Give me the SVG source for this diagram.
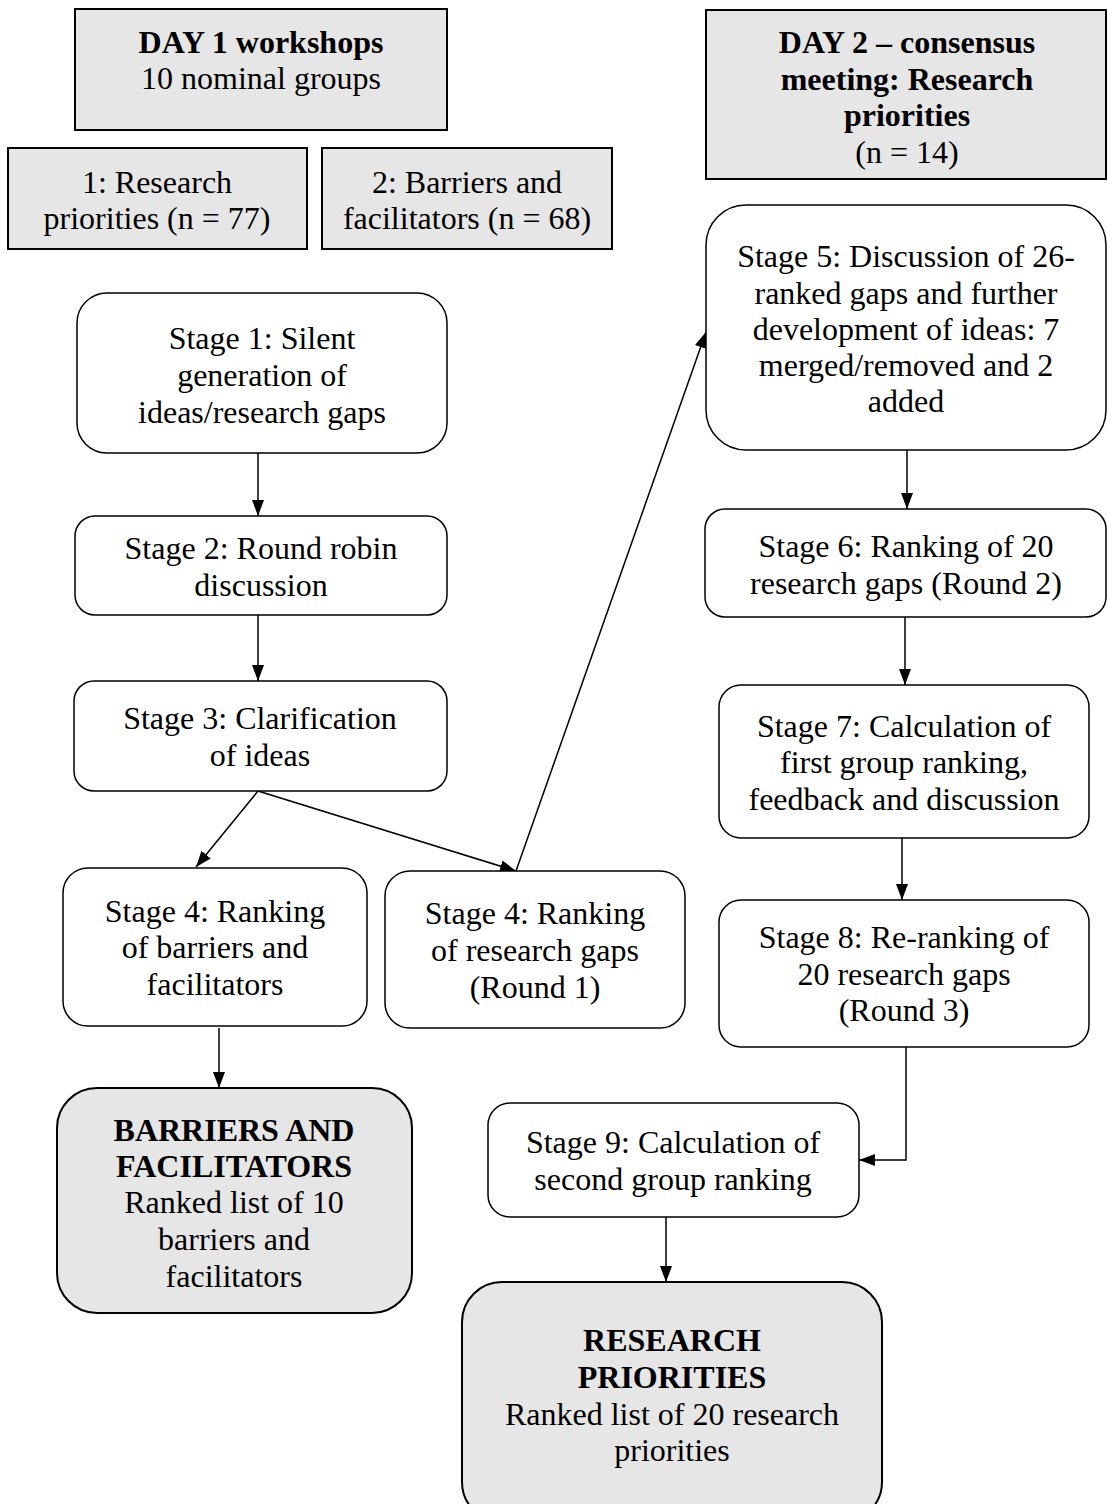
<svg xmlns="http://www.w3.org/2000/svg" width="1107" height="1504" viewBox="0 0 1107 1504">
<style>
text{font-size:32px;fill:#000;text-anchor:middle}
.b{font-weight:bold}
.g{fill:#e6e6e6;stroke:#000;stroke-width:2}
.w{fill:#fff;stroke:#000;stroke-width:1.5}
.c{stroke:#000;stroke-width:1.5;fill:none}
</style>
<defs>
<marker id="ah" viewBox="0 0 16 12" refX="16" refY="6" markerWidth="16" markerHeight="12" markerUnits="userSpaceOnUse" orient="auto">
<path d="M0,0 L16,6 L0,12 Z" fill="#000"/>
</marker>
</defs>
<rect width="1107" height="1504" fill="#fff"/>
<g id="connectors">
<line class="c" x1="258" y1="453" x2="258" y2="516" marker-end="url(#ah)"/>
<line class="c" x1="258" y1="615" x2="258" y2="681" marker-end="url(#ah)"/>
<line class="c" x1="258" y1="791" x2="196" y2="867" marker-end="url(#ah)"/>
<line class="c" x1="258" y1="791" x2="516" y2="871" marker-end="url(#ah)"/>
<line class="c" x1="516" y1="871" x2="706" y2="332" marker-end="url(#ah)"/>
<line class="c" x1="907" y1="450" x2="907" y2="509" marker-end="url(#ah)"/>
<line class="c" x1="905" y1="617" x2="905" y2="685" marker-end="url(#ah)"/>
<line class="c" x1="902" y1="838" x2="902" y2="900" marker-end="url(#ah)"/>
<polyline class="c" points="906,1047 906,1160 859,1160" marker-end="url(#ah)"/>
<line class="c" x1="666" y1="1217" x2="666" y2="1282" marker-end="url(#ah)"/>
<line class="c" x1="219" y1="1028" x2="219" y2="1088" marker-end="url(#ah)"/>
</g>
<g font-family="'Liberation Serif', 'DejaVu Serif', serif">
<g id="day1">
<rect class="g" x="75" y="9" width="372" height="121"/>
<text class="b" x="261" y="53">DAY 1 workshops</text>
<text x="261" y="89">10 nominal groups</text>
</g>
<g id="group1">
<rect class="g" x="8" y="148" width="299" height="101"/>
<text x="157" y="193">1: Research</text>
<text x="157" y="229">priorities (n = 77)</text>
</g>
<g id="group2">
<rect class="g" x="322" y="148" width="290" height="101"/>
<text x="467" y="193">2: Barriers and</text>
<text x="467" y="229">facilitators (n = 68)</text>
</g>
<g id="day2">
<rect class="g" x="706" y="10" width="400" height="169"/>
<text class="b" x="907" y="53">DAY 2 – consensus</text>
<text class="b" x="907" y="90">meeting: Research</text>
<text class="b" x="907" y="126">priorities</text>
<text x="907" y="163">(n = 14)</text>
</g>
<g id="stage1">
<rect class="w" x="77" y="293" width="370" height="160" rx="30"/>
<text x="262" y="349">Stage 1: Silent</text>
<text x="262" y="386">generation of</text>
<text x="262" y="423">ideas/research gaps</text>
</g>
<g id="stage2">
<rect class="w" x="75" y="516" width="372" height="99" rx="20"/>
<text x="261" y="559">Stage 2: Round robin</text>
<text x="261" y="596">discussion</text>
</g>
<g id="stage3">
<rect class="w" x="74" y="681" width="373" height="110" rx="20"/>
<text x="260" y="729">Stage 3: Clarification</text>
<text x="260" y="766">of ideas</text>
</g>
<g id="stage4a">
<rect class="w" x="63" y="868" width="304" height="158" rx="25"/>
<text x="215" y="922">Stage 4: Ranking</text>
<text x="215" y="958">of barriers and</text>
<text x="215" y="995">facilitators</text>
</g>
<g id="stage4b">
<rect class="w" x="385" y="871" width="300" height="157" rx="25"/>
<text x="535" y="924">Stage 4: Ranking</text>
<text x="535" y="961">of research gaps</text>
<text x="535" y="998">(Round 1)</text>
</g>
<g id="barriers">
<rect class="g" x="57" y="1088" width="355" height="225" rx="40" stroke-width="1.5"/>
<text class="b" x="234" y="1141">BARRIERS AND</text>
<text class="b" x="234" y="1177">FACILITATORS</text>
<text x="234" y="1213">Ranked list of 10</text>
<text x="234" y="1250">barriers and</text>
<text x="234" y="1287">facilitators</text>
</g>
<g id="stage5">
<rect class="w" x="706" y="205" width="400" height="245" rx="40"/>
<text x="906" y="267">Stage 5: Discussion of 26-</text>
<text x="906" y="304">ranked gaps and further</text>
<text x="906" y="340">development of ideas: 7</text>
<text x="906" y="376">merged/removed and 2</text>
<text x="906" y="412">added</text>
</g>
<g id="stage6">
<rect class="w" x="705" y="509" width="401" height="108" rx="20"/>
<text x="906" y="557">Stage 6: Ranking of 20</text>
<text x="906" y="594">research gaps (Round 2)</text>
</g>
<g id="stage7">
<rect class="w" x="719" y="685" width="370" height="153" rx="22"/>
<text x="904" y="737">Stage 7: Calculation of</text>
<text x="904" y="773">first group ranking,</text>
<text x="904" y="810">feedback and discussion</text>
</g>
<g id="stage8">
<rect class="w" x="719" y="900" width="370" height="147" rx="22"/>
<text x="904" y="948">Stage 8: Re-ranking of</text>
<text x="904" y="985">20 research gaps</text>
<text x="904" y="1021">(Round 3)</text>
</g>
<g id="stage9">
<rect class="w" x="488" y="1103" width="371" height="114" rx="22"/>
<text x="673" y="1153">Stage 9: Calculation of</text>
<text x="673" y="1190">second group ranking</text>
</g>
<g id="research">
<rect class="g" x="462" y="1282" width="420" height="240" rx="40" stroke-width="1.5"/>
<text class="b" x="672" y="1351">RESEARCH</text>
<text class="b" x="672" y="1388">PRIORITIES</text>
<text x="672" y="1425">Ranked list of 20 research</text>
<text x="672" y="1461">priorities</text>
</g>
</g>
</svg>
